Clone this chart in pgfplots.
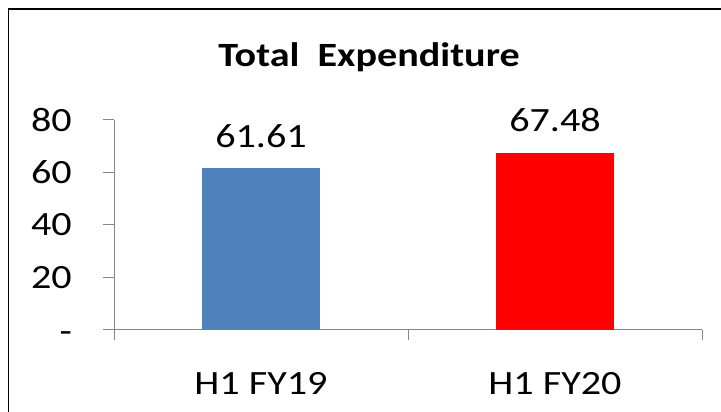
\documentclass[border=0pt]{standalone}
\usepackage{fontspec}
\setmainfont{Carlito}
\usepackage{graphicx}
\usepackage{pgfplots}
\pgfplotsset{compat=1.18}
\definecolor{barblue}{HTML}{4F81BD}
\definecolor{axgray}{HTML}{868686}
\newcommand{\hs}[1]{\scalebox{1.18}[1]{#1}}
\begin{document}
\fontsize{34}{40}\selectfont
\begin{tikzpicture}
\useasboundingbox (0,0) rectangle (721pt,412pt);
\fill[white] (0,0) rectangle (721pt,412pt);
\draw[line width=1.3pt] (8.5pt,0) -- (8.5pt,403pt) -- (721pt,403pt);
\node[anchor=base, inner sep=0pt] at (369pt,345pt) {\hs{\bfseries Total\ \ Expenditure}};
\begin{axis}[
  at={(114pt,82pt)}, anchor=south west,
  scale only axis, width=588pt, height=210pt,
  xmin=-0.5, xmax=1.5, ymin=0, ymax=80,
  axis x line*=bottom, axis y line*=left,
  axis line style={axgray, line width=1pt, -},
  every tick/.style={axgray, line width=1pt},
  xtick={0,1}, xticklabels={\hs{H1 FY19},\hs{H1 FY20}},
  xtick style={draw=none},
  xticklabel style={anchor=base, inner sep=0pt, yshift=-54pt},
  extra x ticks={-0.5,0.5,1.5}, extra x tick labels={},
  extra x tick style={tick align=outside, major tick length=10pt, xtick style={draw=axgray}},
  ytick={0,20,40,60,80}, yticklabels={\raisebox{-7pt}[\height][\depth]{\hs{-}},\hs{20},\hs{40},\hs{60},\hs{80}},
  tick align=outside, major tick length=11pt,
  yticklabel style={anchor=east, inner sep=0pt, xshift=-31pt},
  bar width=118pt,
  nodes near coords, point meta=explicit symbolic,
  every node near coord/.append style={anchor=base, inner sep=0pt, yshift=21pt, font=\fontsize{34}{40}\selectfont},
]
\addplot[ybar, bar shift=0pt, fill=barblue, draw=none] coordinates {(0,61.61) [\hs{61.61}]};
\addplot[ybar, bar shift=0pt, fill=red, draw=none] coordinates {(1,67.48) [\hs{67.48}]};
\end{axis}
\end{tikzpicture}
\end{document}
